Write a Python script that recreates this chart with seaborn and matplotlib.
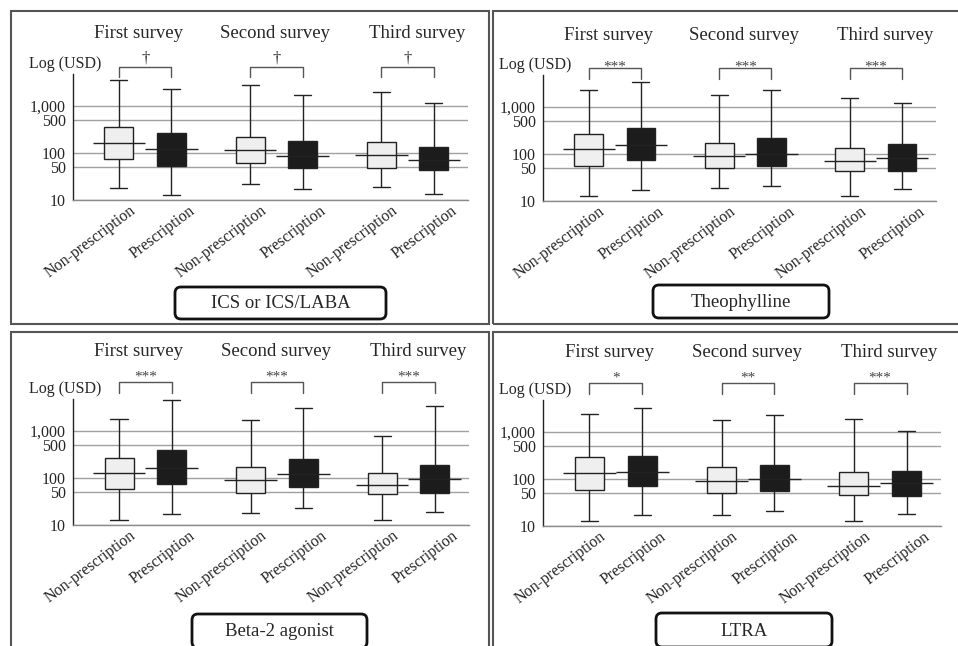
import numpy as np
import pandas as pd
import matplotlib
matplotlib.use('Agg')
import matplotlib.pyplot as plt
from matplotlib.patches import Rectangle, FancyBboxPatch
from matplotlib.ticker import NullLocator
from matplotlib.transforms import ScaledTranslation
import seaborn as sns


# ── Data ──────────────────────────────────────────────────────────────────────

surveys = ['First survey', 'Second survey', 'Third survey']
groups  = ['Non-prescription', 'Prescription']
drugs   = ['ICS or ICS/LABA', 'Theophylline', 'Beta-2 agonist', 'LTRA']

# five-number summaries in USD: whisker low, Q1, median, Q3, whisker high
# box order: NP 1st, P 1st, NP 2nd, P 2nd, NP 3rd, P 3rd
ics = [(17.7, 75, 159, 359, 3445), (12.8, 53, 122, 259, 2256),
       (22.2, 62, 113, 217, 2786), (16.8, 48.5, 87, 175, 1710),
       (19.2, 47.7, 91, 167, 1918), (13.2, 44, 69, 135, 1120)]
theophylline = [(12.6, 55, 124, 259, 2256), (17.1, 73, 154, 359, 3335),
                (18.9, 50, 90, 170, 1768), (20.5, 54, 99, 213, 2256),
                (13.0, 44, 72, 135, 1503), (18.0, 44, 82, 162, 1178)]
beta2 = [(12.6, 57, 124, 259, 1768), (17.1, 73, 162, 389, 4395),
         (18.3, 48.5, 88, 170, 1683), (22.9, 63, 121, 255, 2974),
         (12.8, 44.7, 69, 124, 759), (18.9, 48.5, 94, 190, 3335)]
ltra = [(12.8, 57, 131, 290, 2330), (17.4, 69, 142, 305, 3126),
        (16.8, 49, 90, 175, 1768), (21.1, 54, 97.5, 200, 2220),
        (13.0, 44.7, 70, 137, 1825), (18.0, 44, 80, 149, 1016)]

sig_ics   = ['†', '†', '†']
sig_theo  = ['***', '***', '***']
sig_beta2 = ['***', '***', '***']
sig_ltra  = ['*', '**', '***']

yticks      = [10, 50, 100, 500, 1000]
ytick_names = ['10', '50', '100', '500', '1,000']

panel_stats = [ics, theophylline, beta2, ltra]
panel_sigs  = [sig_ics, sig_theo, sig_beta2, sig_ltra]


# ── Layout (pixels of the 958x646 canvas) ─────────────────────────────────────

W, H = 958, 646
axes_px  = [(73, 468, 74, 200), (543, 936, 75, 201),
            (73, 469, 399, 525), (543, 941, 400, 526)]
frames_px = [(11, 489, 11, 324), (493, 975, 11, 324),
             (11, 489, 332, 660), (493, 975, 332, 660)]
labels_px = [(175, 386, 287, 319), (653, 829, 285, 318),
             (192, 367, 614, 648), (656, 832, 613, 647)]
# px above the axes top: title, bracket bar, bracket leg end, mark baseline
above_px = [(40, 7, -3, 4), (40, 7, -4, 4), (47, 17, 6, 18), (47, 17, 6, 18)]
title_dx = [-0.05, -0.01, 0.07]

sns.set_style('white')
plt.rcParams['font.family'] = ['Liberation Serif', 'DejaVu Serif']

fig = plt.figure(figsize=(W / 100, H / 100), dpi=100)
inch = fig.dpi_scale_trans


def to_in(x, y):
    return x / 100, (H - y) / 100


for k in range(4):
    stats = panel_stats[k]
    rows = []
    for i, five in enumerate(stats):
        for v in five:
            rows.append({'survey': surveys[i // 2], 'group': groups[i % 2], 'usd': v})
    df = pd.DataFrame(rows)

    l, r, t, b = axes_px[k]
    ax = fig.add_axes([l / W, 1 - b / H, (r - l) / W, (b - t) / H])
    ax.set_yscale('log')
    sns.boxplot(data=df, x='survey', y='usd', hue='group', order=surveys,
                hue_order=groups, palette=['#efefef', '#1c1c1c'],
                linecolor='#222222', linewidth=1.0, whis=(0, 100),
                width=0.8, gap=0.45, dodge=True, legend=False, ax=ax, zorder=3)

    # median lines reach across the whole dodge slot, caps are short
    for c in ax.containers:
        for m in c.medians:
            cx = np.mean(m.get_xdata())
            m.set_xdata([cx - 0.2, cx + 0.2])
        for cap in c.caps:
            cx = np.mean(cap.get_xdata())
            cap.set_xdata([cx - 0.065, cx + 0.065])

    ax.set_ylim(10, 4700)
    ax.set_xlim(-0.55, 2.46)
    ax.set_yticks(yticks)
    ax.set_yticklabels(ytick_names, fontsize=11.5)
    for lab in ax.get_yticklabels():
        lab.set_transform(lab.get_transform() +
                          ScaledTranslation(0, -2.5 / 100, inch))
    ax.yaxis.set_minor_locator(NullLocator())
    ax.tick_params(axis='y', length=0, pad=5)
    ax.tick_params(axis='x', length=0, pad=2)

    xpos = [-0.2, 0.2, 0.8, 1.2, 1.8, 2.2]
    ax.set_xticks(xpos)
    ax.set_xticklabels(groups * 3, fontsize=11.5, rotation=37, ha='right',
                       va='top', rotation_mode='anchor')
    for j, lab in enumerate(ax.get_xticklabels()):
        shift = 10 if j % 2 == 0 else 17
        lab.set_transform(lab.get_transform() +
                          ScaledTranslation(shift / 100, 0, inch))
    ax.set_xlabel('')
    ax.set_ylabel('')

    ax.set_axisbelow(True)
    ax.yaxis.grid(True, color='#a0a0a0', lw=1.0)
    ax.xaxis.grid(False)
    sns.despine(ax=ax)
    ax.spines['left'].set_color('#222222')
    ax.spines['left'].set_linewidth(1.0)
    ax.spines['bottom'].set_color('#8a8a8a')
    ax.spines['bottom'].set_linewidth(1.0)

    # texts above the axes, offsets given in px above the top edge
    hpx = b - t
    ft, fbar, fleg, fmark = [1 + v / hpx for v in above_px[k]]
    tr = ax.get_xaxis_transform()
    for g in range(3):
        ax.text(g + title_dx[g], ft, surveys[g], transform=tr, ha='center',
                va='center', fontsize=13.5)
        x0, x1 = g - 0.2, g + 0.2
        ax.plot([x0, x0, x1, x1], [fleg, fbar, fbar, fleg], transform=tr,
                color='#555555', lw=1.0, clip_on=False)
        mark = panel_sigs[k][g]
        if mark == '†':
            ax.text(g, 1 + 12 / hpx, mark, transform=tr, ha='center',
                    va='baseline', fontsize=12, color='#333333')
        else:
            ax.text(g, fmark, mark, transform=tr, ha='center', va='baseline',
                    fontsize=11, color='#444444')
    ax.text(-0.02, 1 + 10 / hpx, 'Log (USD)', transform=ax.transAxes,
            ha='center', va='center', fontsize=11.5)

    # panel frame
    fl, fr, ftp, fb = frames_px[k]
    x0, y0 = to_in(fl, fb)
    fig.add_artist(Rectangle((x0, y0), (fr - fl) / 100, (fb - ftp) / 100,
                             transform=inch, fill=False, ec='#555555', lw=1.5))

    # drug label box
    bl, br, bt, bb = labels_px[k]
    x0, y0 = to_in(bl, bb)
    fig.add_artist(FancyBboxPatch((x0, y0), (br - bl) / 100, (bb - bt) / 100,
                                  boxstyle='round,pad=0,rounding_size=0.06',
                                  transform=inch, fc='white', ec='#111111', lw=2))
    cx, cy = to_in((bl + br) / 2, (bt + bb) / 2 + 1)
    fig.text(cx, cy, drugs[k], transform=inch, ha='center', va='center',
             fontsize=13.5)

plt.savefig('out.png', dpi=100)
plt.close()
